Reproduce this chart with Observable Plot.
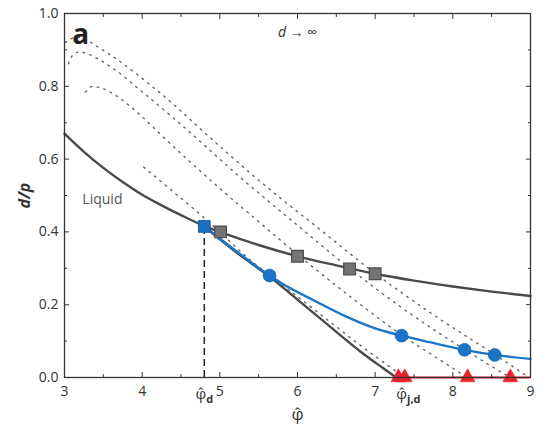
<!DOCTYPE html>
<html>
<head>
<meta charset="utf-8">
<script src="https://cdn.jsdelivr.net/npm/d3@7"></script>
<script src="https://cdn.jsdelivr.net/npm/@observablehq/plot@0.6"></script>
<style>
  html, body { margin: 0; padding: 0; background: #fff; }
  #chart svg { display: block; }
</style>
</head>
<body>
<div id="chart"></div>
<script>
// Axis ticks
const xTicks = [3, 4, 5, 6, 7, 8, 9];
const xMinor = [3.5, 4.5, 5.5, 6.5, 7.5, 8.5];
const yTicks = [0, 0.2, 0.4, 0.6, 0.8, 1.0];
const yMinor = [0.1, 0.3, 0.5, 0.7, 0.9];

// Liquid branch
const liquidPhi = [3.0, 3.25, 3.5, 3.75, 4.0, 4.25, 4.5, 4.8, 5.0, 5.5, 6.0, 6.5, 7.0, 7.5, 8.0, 8.5, 9.0];
const liquidDp  = [0.670, 0.620, 0.576, 0.537, 0.502, 0.473, 0.446, 0.416, 0.400, 0.364, 0.333, 0.308, 0.285, 0.266, 0.250, 0.236, 0.224];

// Equilibrium glass line down to jamming
const glassPhi = [4.8, 5.2, 5.64, 6.0, 6.4, 6.8, 7.1, 7.27];
const glassDp  = [0.415, 0.346, 0.277, 0.214, 0.143, 0.073, 0.026, 0.0];

// Blue (Gardner) line
const gardnerPhi = [4.8, 5.2, 5.64, 5.8, 6.2, 6.6, 7.0, 7.34, 7.7, 8.15, 8.54, 9.0];
const gardnerDp  = [0.415, 0.349, 0.280, 0.258, 0.213, 0.170, 0.135, 0.115, 0.097, 0.076, 0.062, 0.051];

// Dotted state-following curves
const followAPhi = [3.01, 3.1, 3.2, 3.3, 3.4, 3.6, 4.19, 5.0, 5.5, 6.3, 7.0, 7.8, 8.54, 8.98];
const followADp  = [0.920, 0.932, 0.935, 0.926, 0.912, 0.885, 0.789, 0.635, 0.542, 0.405, 0.286, 0.165, 0.063, 0.0];
const followBPhi = [3.05, 3.10, 3.18, 3.29, 3.40, 3.6, 4.0, 4.5, 5.3, 6.0, 6.67, 7.4, 8.15, 8.45, 8.74];
const followBDp  = [0.862, 0.884, 0.894, 0.890, 0.879, 0.853, 0.785, 0.695, 0.543, 0.418, 0.300, 0.183, 0.077, 0.037, 0.0];
const followCPhi = [3.27, 3.36, 3.46, 3.66, 3.83, 4.0, 4.32, 4.88, 5.5, 6.0, 6.68, 7.34, 7.8, 8.19];
const followCDp  = [0.784, 0.800, 0.796, 0.775, 0.748, 0.716, 0.651, 0.542, 0.428, 0.338, 0.222, 0.117, 0.053, 0.0];
const followDPhi = [4.02, 4.3, 4.53, 4.79, 5.0, 5.33, 5.64, 6.0, 6.4, 6.8, 7.1, 7.38];
const followDDp  = [0.578, 0.528, 0.487, 0.440, 0.400, 0.334, 0.281, 0.222, 0.156, 0.090, 0.043, 0.0];

// Markers
const squarePhi = [5.01, 6.0, 6.67, 7.0];
const squareDp  = [0.400, 0.333, 0.298, 0.285];
const circlePhi = [5.64, 7.34, 8.15, 8.54];
const circleDp  = [0.280, 0.115, 0.076, 0.062];
const jamPhi    = [7.30, 7.38, 8.19, 8.74];
const dynPhi = 4.8;
const dynDp  = 0.415;
const jamEnd = 9.0;

const zip = (xs, ys) => xs.map((x, i) => ({x, y: ys[i]}));

const liquid  = zip(liquidPhi, liquidDp);
const glass   = zip(glassPhi, glassDp);
const gardner = zip(gardnerPhi, gardnerDp);
const follows = [
  zip(followAPhi, followADp), zip(followBPhi, followBDp),
  zip(followCPhi, followCDp), zip(followDPhi, followDDp)
];
const squares = zip(squarePhi, squareDp);
const circles = zip(circlePhi, circleDp);
const jams = jamPhi.map(x => ({x, y: 0}));

const dark = "#4a4a4a";
const blue = "#1a74c7";
const red  = "#e8232b";
const tickOpts = {tickFormat: () => "", stroke: "#333", label: null};

const plot = Plot.plot({
  width: 551,
  height: 428,
  marginLeft: 64,
  marginRight: 21,
  marginTop: 13,
  marginBottom: 51,
  x: {domain: [3, 9]},
  y: {domain: [0, 1]},
  style: {fontFamily: "'Open Sans', sans-serif", fontSize: "14px", color: "#333", background: "#fff"},
  marks: [
    ...follows.map(f => Plot.line(f, {x: "x", y: "y", curve: "monotone-x", stroke: "#666", strokeWidth: 1.4, strokeDasharray: "1.6,5.4"})),
    Plot.ruleX([dynPhi], {y1: 0, y2: dynDp, stroke: "#222", strokeWidth: 1.5, strokeDasharray: "7,4"}),
    Plot.line(liquid, {x: "x", y: "y", curve: "monotone-x", stroke: dark, strokeWidth: 2.4}),
    Plot.line(glass, {x: "x", y: "y", curve: "monotone-x", stroke: dark, strokeWidth: 2.4}),
    Plot.line(gardner, {x: "x", y: "y", curve: "monotone-x", stroke: blue, strokeWidth: 2.4}),
    Plot.ruleY([0], {x1: jamPhi[0], x2: jamEnd, stroke: red, strokeWidth: 1.8}),
    Plot.dot(squares, {x: "x", y: "y", symbol: "square", r: 6.6, fill: "#747474", stroke: "#4d4d4d", strokeWidth: 1.2}),
    Plot.dot(circles, {x: "x", y: "y", symbol: "circle", r: 6.4, fill: blue, stroke: "#1767b3", strokeWidth: 0.8}),
    Plot.dot([{x: dynPhi, y: dynDp}], {x: "x", y: "y", symbol: "square", r: 6.6, fill: "#1e6fc0", stroke: "#195fa6", strokeWidth: 1}),
    Plot.dot(jams, {x: "x", y: "y", symbol: "triangle", r: 5.6, fill: red, stroke: red, strokeWidth: 0.5}),

    // frame and tick marks (inward on all four sides)
    Plot.frame({stroke: "#333", strokeWidth: 1.3}),
    Plot.axisX(xTicks, {anchor: "bottom", tickSize: -5, ...tickOpts}),
    Plot.axisX(xMinor, {anchor: "bottom", tickSize: -3, ...tickOpts}),
    Plot.axisX(xTicks, {anchor: "top", tickSize: -5, ...tickOpts}),
    Plot.axisX(xMinor, {anchor: "top", tickSize: -3, ...tickOpts}),
    Plot.axisY(yTicks, {anchor: "left", tickSize: -5, ...tickOpts}),
    Plot.axisY(yMinor, {anchor: "left", tickSize: -3, ...tickOpts}),
    Plot.axisY(yTicks, {anchor: "right", tickSize: -5, ...tickOpts}),
    Plot.axisY(yMinor, {anchor: "right", tickSize: -3, ...tickOpts}),

    // tick labels
    Plot.axisX(xTicks, {anchor: "bottom", tickSize: 0, tickPadding: 9, tickFormat: d => String(d), label: null, fill: "#333"}),
    Plot.axisY(yTicks, {anchor: "left", tickSize: 0, tickPadding: 6, tickFormat: d => d.toFixed(1), label: null, fill: "#333"}),

    // special phi labels under the axis
    Plot.text([{x: dynPhi, t: "φ̂d"}], {x: "x", y: 0, text: "t", dy: 17, dx: 0, fill: "#333", fontSize: 15}),
    Plot.text([{x: jamPhi[0], t: "φ̂j,d"}], {x: "x", y: 0, text: "t", dy: 17, dx: 10, fill: "#333", fontSize: 15}),

    // axis titles
    Plot.text([{x: 6, t: "φ̂"}], {x: "x", y: 0, text: "t", dy: 37, fill: "#333", fontSize: 17}),
    Plot.text([{y: 0.5, t: "d/p"}], {x: 3, y: "y", text: "t", dx: -40, rotate: -90, fill: "#333", fontSize: 16, fontWeight: "bold", fontStyle: "italic"}),

    // annotations
    Plot.text([{x: 6.0, y: 0.948, t: "d → ∞"}], {x: "x", y: "y", text: "t", fill: "#333", fontSize: 14}),
    Plot.text([{x: 3.23, y: 0.49, t: "Liquid"}], {x: "x", y: "y", text: "t", textAnchor: "start", fill: "#555", fontSize: 14}),
    Plot.text([{x: 3.1, y: 0.94, t: "a"}], {x: "x", y: "y", text: "t", textAnchor: "start", fill: "#222", fontSize: 28, fontWeight: "bold"})
  ]
});

document.getElementById("chart").appendChild(plot);

// Rich text: subscripts and italic variable names
const svg = d3.select(plot);
svg.selectAll("text").each(function () {
  const el = d3.select(this);
  const t = this.textContent;
  if (t === "φ̂d" || t === "φ̂j,d") {
    el.text(null);
    el.append("tspan").text("φ̂");
    el.append("tspan").attr("dy", "0.3em").attr("font-size", 11).attr("font-weight", "bold").text(t.slice(2));
  } else if (t === "d → ∞") {
    el.text(null);
    el.append("tspan").attr("font-style", "italic").text("d");
    el.append("tspan").text(" → ∞");
  }
});
</script>
</body>
</html>
